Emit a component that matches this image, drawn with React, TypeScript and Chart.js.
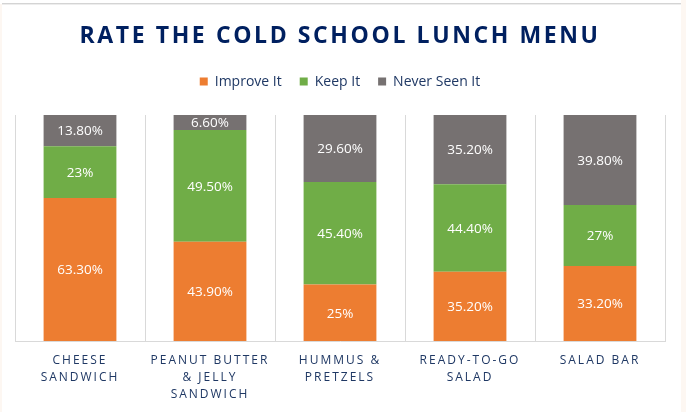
import React, { useEffect, useRef } from "react";
import { Chart, registerables } from "chart.js";

Chart.register(...registerables);

const TITLE = "RATE THE COLD SCHOOL LUNCH MENU";
const CATEGORIES: string[][] = [
  ["CHEESE", "SANDWICH"],
  ["PEANUT BUTTER", "& JELLY", "SANDWICH"],
  ["HUMMUS &", "PRETZELS"],
  ["READY-TO-GO", "SALAD"],
  ["SALAD BAR"],
];
const SERIES_NAMES = ["Improve It", "Keep It", "Never Seen It"];
const IMPROVE_IT = [63.3, 43.9, 25, 35.2, 33.2];
const KEEP_IT = [23, 49.5, 45.4, 44.4, 27];
const NEVER_SEEN_IT = [13.8, 6.6, 29.6, 35.2, 39.8];
const COLORS = ["#ED7D31", "#70AD47", "#767171"];

const FONT = "'Open Sans', 'DejaVu Sans', sans-serif";
const NAVY = "#002060";
const TEXT_NAVY = "#1F3864";
const GRID = "#D9D9D9";

const fmt = (v: number) => (Number.isInteger(v) ? `${v}%` : `${v.toFixed(2)}%`);

const RAW = [IMPROVE_IT, KEEP_IT, NEVER_SEEN_IT];
const TOTALS = CATEGORIES.map((_, i) => RAW.reduce((s, arr) => s + arr[i], 0));

const spacingPlugin = {
  id: "letterSpacing",
  beforeDraw(chart: any) {
    const ctx = chart.ctx;
    const tb = chart.titleBlock;
    if (tb && !tb.__ls) {
      const orig = tb.draw.bind(tb);
      tb.draw = (area: any) => {
        const prev = ctx.letterSpacing;
        ctx.letterSpacing = "2.6px";
        orig(area);
        ctx.letterSpacing = prev || "0px";
      };
      tb.__ls = true;
    }
    const xs = chart.scales.x;
    if (xs && !xs.__ls) {
      const orig = xs.drawLabels.bind(xs);
      xs.drawLabels = (area: any) => {
        const prev = ctx.letterSpacing;
        ctx.letterSpacing = "2px";
        orig(area);
        ctx.letterSpacing = prev || "0px";
      };
      xs.__ls = true;
    }
  },
};

const dataLabelPlugin = {
  id: "barValueLabels",
  afterDatasetsDraw(chart: any) {
    const ctx = chart.ctx;
    ctx.save();
    ctx.letterSpacing = "0px";
    ctx.fillStyle = "#FFFFFF";
    ctx.font = `normal 13.5px ${FONT}`;
    ctx.textAlign = "center";
    ctx.textBaseline = "middle";
    chart.data.datasets.forEach((ds: any, di: number) => {
      const meta = chart.getDatasetMeta(di);
      meta.data.forEach((bar: any, i: number) => {
        const raw = RAW[di][i];
        const cy = (bar.y + bar.base) / 2 + 1;
        ctx.fillText(fmt(raw), bar.x, cy);
      });
    });
    ctx.restore();
  },
};

export default function App() {
  const ref = useRef<HTMLCanvasElement | null>(null);

  useEffect(() => {
    if (!ref.current) return;
    const chart = new Chart(ref.current, {
      type: "bar",
      data: {
        labels: CATEGORIES,
        datasets: RAW.map((arr, di) => ({
          label: SERIES_NAMES[di],
          data: arr.map((v, i) => (v / TOTALS[i]) * 100),
          backgroundColor: COLORS[di],
          borderWidth: 0,
          barPercentage: 0.56,
          categoryPercentage: 1,
        })),
      },
      options: {
        responsive: false,
        animation: false,
        layout: { padding: { left: 15, right: 21, top: 0, bottom: -2 } },
        plugins: {
          title: {
            display: true,
            text: TITLE,
            color: NAVY,
            font: { family: FONT, size: 23, weight: "bold", lineHeight: 1.2 },
            padding: { top: 23, bottom: 6 },
          },
          subtitle: {
            display: true,
            text: "",
            weight: 500,
            font: { size: 1, lineHeight: 1 },
            padding: { top: 0, bottom: 15.4 },
          },
          legend: {
            position: "top",
            labels: {
              boxWidth: 8,
              boxHeight: 8,
              padding: 18,
              color: TEXT_NAVY,
              font: { family: FONT, size: 14 },
            },
          },
          tooltip: { enabled: false },
        },
        scales: {
          x: {
            stacked: true,
            grid: { display: true, drawTicks: false, color: GRID, lineWidth: 1 },
            border: { display: true, color: GRID, width: 1 },
            ticks: {
              color: TEXT_NAVY,
              font: { family: FONT, size: 12, lineHeight: 17 / 12 },
              padding: 11,
              maxRotation: 0,
              autoSkip: false,
            },
          },
          y: { stacked: true, display: false, min: 0, max: 100 },
        },
      },
      plugins: [spacingPlugin, dataLabelPlugin],
    } as any);
    return () => chart.destroy();
  }, []);

  return (
    <div style={{ position: "absolute", left: 0, top: 0, width: 686, height: 412, background: "#FFFFFF", overflow: "hidden" }}>
      <div style={{ position: "absolute", left: 0, top: 4, width: 2, height: 408, background: "#FDF7F2" }} />
      <div style={{ position: "absolute", left: 681, top: 0, width: 5, height: 412, background: "#FDF7F2" }} />
      <div style={{ position: "absolute", left: 2, top: 3, width: 679, height: 1, background: "#D4D4D4" }} />
      <div style={{ position: "absolute", left: 2, top: 4, width: 679, height: 1, background: "#EDEDED" }} />
      <canvas ref={ref} width={686} height={412} style={{ position: "absolute", left: 0, top: 0, display: "block" }} />
    </div>
  );
}
